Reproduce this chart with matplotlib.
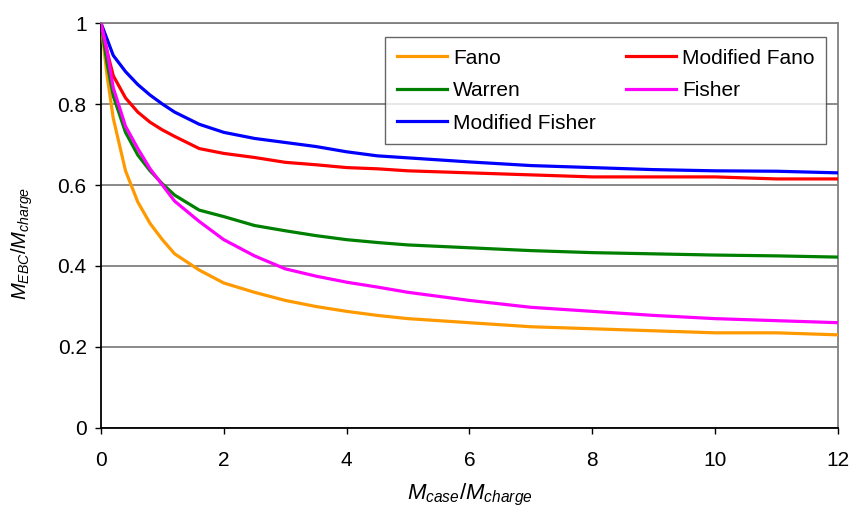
import matplotlib
matplotlib.use("Agg")
from matplotlib import pyplot

pyplot.rcParams["font.family"] = ["Liberation Sans", "DejaVu Sans"]
pyplot.rcParams["mathtext.fontset"] = "custom"
pyplot.rcParams["mathtext.it"] = "Liberation Sans:italic"
pyplot.rcParams["mathtext.rm"] = "Liberation Sans"

# Mass ratio values (x axis)
x_vals = [0, 0.1, 0.2, 0.4, 0.6, 0.8, 1.0, 1.2, 1.6, 2.0, 2.5, 3.0, 3.5,
          4.0, 4.5, 5, 6, 7, 8, 9, 10, 11, 12]

fano = [1.0, 0.87, 0.765, 0.635, 0.558, 0.505, 0.465, 0.43, 0.39, 0.358,
        0.335, 0.315, 0.30, 0.288, 0.278, 0.27, 0.26, 0.25, 0.245, 0.24,
        0.235, 0.235, 0.23]
warren = [1.0, 0.90, 0.82, 0.73, 0.674, 0.635, 0.603, 0.575, 0.538, 0.522,
          0.50, 0.487, 0.475, 0.465, 0.458, 0.452, 0.445, 0.438, 0.433, 0.43,
          0.427, 0.425, 0.422]
fisher = [1.0, 0.93, 0.84, 0.745, 0.69, 0.64, 0.60, 0.56, 0.51, 0.465, 0.425,
          0.393, 0.375, 0.36, 0.348, 0.335, 0.315, 0.298, 0.288, 0.278, 0.27,
          0.265, 0.26]
mod_fano = [1.0, 0.93, 0.87, 0.815, 0.78, 0.755, 0.736, 0.72, 0.69, 0.678,
            0.668, 0.656, 0.65, 0.643, 0.64, 0.635, 0.63, 0.625, 0.62, 0.62,
            0.62, 0.615, 0.615]
mod_fisher = [1.0, 0.96, 0.92, 0.88, 0.848, 0.822, 0.80, 0.78, 0.75, 0.73,
              0.715, 0.705, 0.695, 0.682, 0.672, 0.667, 0.657, 0.648, 0.643,
              0.638, 0.635, 0.634, 0.63]

x_ticks = [0, 2, 4, 6, 8, 10, 12]
y_ticks = [0, 0.2, 0.4, 0.6, 0.8, 1]
y_tick_labels = ["0", "0.2", "0.4", "0.6", "0.8", "1"]

figure = pyplot.figure(figsize=(8.52, 5.08), dpi=100)
axes = figure.add_axes([0.1185, 0.1575, 0.865, 0.7972])

# Plot curves (order chosen so the 2-column legend matches)
series = [
    ("Fano", fano, "#FF9900"),
    ("Warren", warren, "#008000"),
    ("Modified Fisher", mod_fisher, "#0000FF"),
    ("Modified Fano", mod_fano, "#FF0000"),
    ("Fisher", fisher, "#FF00FF"),
]
for name, vals, col in series:
    axes.plot(x_vals, vals, color=col, linewidth=2.3, label=name,
              solid_joinstyle="round", zorder=3)

axes.set_xlim(0, 12)
axes.set_ylim(0, 1)
axes.set_xticks(x_ticks)
axes.set_yticks(y_ticks)
axes.set_yticklabels(y_tick_labels)

axes.tick_params(direction="out", length=4.3, width=1, color="black",
                 labelsize=15)
axes.tick_params(axis="x", pad=12)
axes.tick_params(axis="y", pad=6)
axes.grid(axis="y", color="#808080", linewidth=1.3, zorder=1)

axes.spines["left"].set_color("black")
axes.spines["bottom"].set_color("black")
axes.spines["top"].set_color("#808080")
axes.spines["right"].set_color("#808080")
for s in axes.spines.values():
    s.set_linewidth(1.3)

axes.set_xlabel("$M_{case}/M_{charge}$", fontsize=16, labelpad=9)
axes.set_ylabel("$M_{EBC}/M_{charge}$", fontsize=14.5)
axes.yaxis.set_label_coords(-0.09, 0.455)

leg = axes.legend(ncol=2, loc="upper right", bbox_to_anchor=(0.984, 0.965),
                  fontsize=15, frameon=True, fancybox=False, handlelength=2.4,
                  handletextpad=0.3, columnspacing=1.45, borderpad=0.55,
                  labelspacing=0.65, borderaxespad=0)
leg.get_frame().set_edgecolor("#404040")
leg.get_frame().set_linewidth(1.0)

pyplot.savefig("out.png", dpi=100)
